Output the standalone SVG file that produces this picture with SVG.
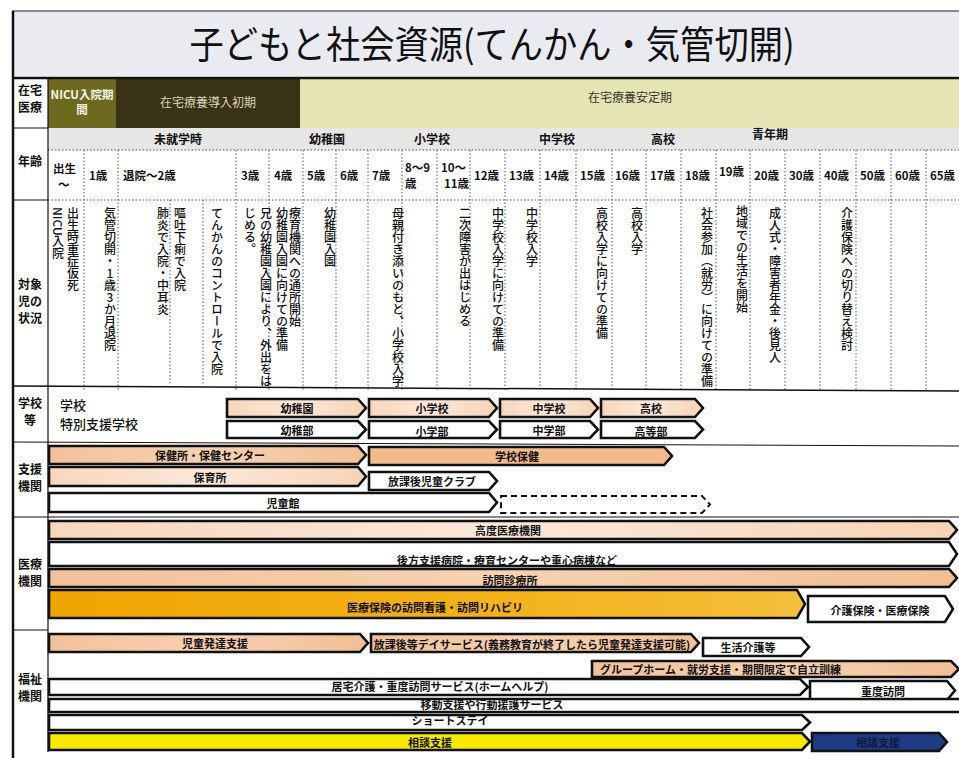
<svg xmlns="http://www.w3.org/2000/svg" width="959" height="758" viewBox="0 0 959 758">
<style>
text{font-family:"Noto Sans CJK JP","Noto Sans",sans-serif;fill:#111;}
.lbl{font-size:12px;font-weight:700;text-anchor:middle;}
.age{font-size:11.5px;font-weight:700;}
.sub{font-size:12px;font-weight:700;text-anchor:middle;}
.vt{font-size:12px;font-weight:500;writing-mode:vertical-rl;}
.sh{stroke:#111;stroke-width:2.6;stroke-linejoin:miter;}
.st{font-size:11px;font-weight:700;text-anchor:middle;dominant-baseline:central;}
.grid{stroke:#555;stroke-width:1;stroke-dasharray:1.5 2;fill:none;}
.rule{stroke:#111;fill:none;}
</style>
<defs>
<linearGradient id="peachL" x1="0" x2="1" y1="0" y2="0"><stop offset="0" stop-color="#f7d6bd"/><stop offset="0.5" stop-color="#fbe8da"/><stop offset="1" stop-color="#f6d3b6"/></linearGradient>
<linearGradient id="peach" x1="0" x2="1" y1="0" y2="0"><stop offset="0" stop-color="#f2c19a"/><stop offset="0.5" stop-color="#f6d1b2"/><stop offset="1" stop-color="#f1bf95"/></linearGradient>
<linearGradient id="orange" x1="0" x2="1" y1="0" y2="0"><stop offset="0" stop-color="#f0a400"/><stop offset="0.6" stop-color="#f3b21a"/><stop offset="1" stop-color="#f5bf3a"/></linearGradient>
</defs>
<rect x="0" y="0" width="959" height="758" fill="#ffffff"/>
<!-- title band -->
<rect x="12" y="12" width="947" height="64" fill="#e9ebf1"/>
<line class="rule" x1="12" y1="11" x2="959" y2="11" stroke-width="1"/>
<text x="492" y="58" font-size="38" font-weight="400" text-anchor="middle" textLength="605" lengthAdjust="spacingAndGlyphs">子どもと社会資源(てんかん・気管切開)</text>

<!-- header row 1 -->
<g id="row-zaitaku">
<rect x="48" y="78" width="68" height="50" fill="#6d6a1f"/>
<rect x="116" y="78" width="184" height="50" fill="#3a3216"/>
<rect x="300" y="78" width="659" height="50" fill="#e5e4b3"/>
<text x="82" y="99" font-size="11.5" font-weight="700" text-anchor="middle" style="fill:#f4f4e8">NICU入院期</text>
<text x="82" y="114" font-size="11.5" font-weight="700" text-anchor="middle" style="fill:#f4f4e8">間</text>
<text x="208" y="107" font-size="12" text-anchor="middle" style="fill:#d9d3bd">在宅療養導入初期</text>
<text x="630" y="102" font-size="12" text-anchor="middle" style="fill:#333">在宅療養安定期</text>
</g>

<!-- sub header -->
<g id="row-stage">
<rect x="48" y="128" width="911" height="22" fill="#e6e6e6"/>
<text class="sub" x="178" y="144">未就学時</text>
<text class="sub" x="327" y="144">幼稚園</text>
<text class="sub" x="432" y="144">小学校</text>
<text class="sub" x="557" y="144">中学校</text>
<text class="sub" x="663" y="144">高校</text>
<text class="sub" x="770" y="139">青年期</text>
</g>

<!-- grid lines -->
<g id="grid">
<line class="grid" x1="48" y1="150" x2="959" y2="150"/>
<line class="grid" x1="48" y1="200" x2="959" y2="200"/>
<path class="grid" d="M84 150V390M118 150V390M236 150V390M269 150V390M303 150V390M336 150V390M368 150V390M402 150V390M437 150V390M470 150V390M505 150V390M540 150V390M576 150V390M612 150V390M646 150V390M681 150V390M716 150V390M750 150V390M785 150V390M820 150V390M856 150V390M891 150V390M926 150V390M170 200V385M203 200V385"/>
<line class="rule" x1="13" y1="78" x2="959" y2="78" stroke-width="2.5"/>
<line class="rule" x1="13" y1="128" x2="48" y2="128" stroke-width="1"/>
<line class="rule" x1="13" y1="200" x2="48" y2="200" stroke-width="1"/>
<line class="rule" x1="13" y1="386" x2="959" y2="391" stroke-width="1.5"/>
<line class="rule" x1="13" y1="442" x2="959" y2="446" stroke-width="1"/>
<line class="rule" x1="13" y1="517" x2="959" y2="517" stroke-width="1"/>
<line class="rule" x1="13" y1="630" x2="48" y2="630" stroke-width="1"/>
<line class="rule" x1="13" y1="11" x2="13" y2="758" stroke-width="2.5"/>
<line class="rule" x1="48" y1="78" x2="48" y2="752" stroke-width="1.2"/>
</g>

<!-- row labels -->
<g id="labels">
<text class="lbl" x="30" y="95">在宅</text><text class="lbl" x="30" y="112">医療</text>
<text class="lbl" x="30" y="166">年齢</text>
<text class="lbl" x="30" y="289">対象</text><text class="lbl" x="30" y="306">児の</text><text class="lbl" x="30" y="323">状況</text>
<text class="lbl" x="30" y="408">学校</text><text class="lbl" x="30" y="425">等</text>
<text class="lbl" x="30" y="474">支援</text><text class="lbl" x="30" y="491">機関</text>
<text class="lbl" x="30" y="569">医療</text><text class="lbl" x="30" y="586">機関</text>
<text class="lbl" x="30" y="684">福祉</text><text class="lbl" x="30" y="701">機関</text>
</g>

<!-- ages -->
<g id="ages">
<text class="age" x="53" y="173">出生</text><text class="age" x="58" y="189">～</text>
<text class="age" x="89" y="180">1歳</text>
<text class="age" x="123" y="180">退院～2歳</text>
<text class="age" x="241" y="180">3歳</text>
<text class="age" x="274" y="180">4歳</text>
<text class="age" x="307" y="180">5歳</text>
<text class="age" x="340" y="180">6歳</text>
<text class="age" x="372" y="180">7歳</text>
<text class="age" x="405" y="172">8～9</text><text class="age" x="405" y="188">歳</text>
<text class="age" x="441" y="172">10～</text><text class="age" x="444" y="188">11歳</text>
<text class="age" x="474" y="180">12歳</text>
<text class="age" x="509" y="180">13歳</text>
<text class="age" x="544" y="180">14歳</text>
<text class="age" x="580" y="180">15歳</text>
<text class="age" x="615" y="180">16歳</text>
<text class="age" x="650" y="180">17歳</text>
<text class="age" x="685" y="180">18歳</text>
<text class="age" x="719" y="176">19歳</text>
<text class="age" x="754" y="180">20歳</text>
<text class="age" x="789" y="180">30歳</text>
<text class="age" x="824" y="180">40歳</text>
<text class="age" x="860" y="180">50歳</text>
<text class="age" x="895" y="180">60歳</text>
<text class="age" x="930" y="180">65歳</text>
</g>

<!-- situations (vertical) -->
<g id="situations">
<text class="vt" x="73" y="207">出生時重症仮死</text>
<text class="vt" x="58" y="207">NICU入院</text>
<text class="vt" x="110" y="207" style="text-orientation:upright">気管切開・1歳3か月退院</text>
<text class="vt" x="163" y="207">肺炎で入院・中耳炎</text>
<text class="vt" x="180" y="207">嘔吐下痢で入院</text>
<text class="vt" x="217" y="207">てんかんのコントロールで入院</text>
<text class="vt" x="266" y="207">兄の幼稚園入園により、外出をは</text>
<text class="vt" x="250" y="207">じめる。</text>
<text class="vt" x="295" y="207">療育機関への通所開始</text>
<text class="vt" x="282" y="207">幼稚園入園に向けての準備</text>
<text class="vt" x="330" y="207">幼稚園入園</text>
<text class="vt" x="398" y="207">母親付き添いのもと、小学校入学</text>
<text class="vt" x="465" y="207">二次障害が出はじめる</text>
<text class="vt" x="498" y="207">中学校入学に向けての準備</text>
<text class="vt" x="532" y="207">中学校入学</text>
<text class="vt" x="602" y="207">高校入学に向けての準備</text>
<text class="vt" x="637" y="207">高校入学</text>
<text class="vt" x="707" y="207">社会参加（就労）に向けての準備</text>
<text class="vt" x="742" y="205">地域での生活を開始</text>
<text class="vt" x="775" y="207">成人式・障害者年金・後見人</text>
<text class="vt" x="847" y="207">介護保険への切り替え検討</text>
</g>

<!-- school row -->
<g id="school">
<text x="60" y="410" font-size="13" font-weight="500">学校</text>
<text x="60" y="429" font-size="13" font-weight="500">特別支援学校</text>
</g>
<g id="n-yochien"><polygon class="sh" fill="url(#peachL)" points="227,399 358,399 366,408 358,417 227,417"/><text class="st" x="297" y="408">幼稚園</text></g>
<g id="n-shogakko"><polygon class="sh" fill="url(#peachL)" points="369,399 489,399 497,408 489,417 369,417"/><text class="st" x="432" y="408">小学校</text></g>
<g id="n-chugakko"><polygon class="sh" fill="url(#peachL)" points="500,399 590,399 598,408 590,417 500,417"/><text class="st" x="549" y="408">中学校</text></g>
<g id="n-koko"><polygon class="sh" fill="url(#peachL)" points="601,399 695,399 703,408 695,417 601,417"/><text class="st" x="651" y="408">高校</text></g>
<g id="n-yochibu"><polygon class="sh" fill="#fff" points="227,421 358,421 366,429.5 358,438 227,438"/><text class="st" x="297" y="429.5">幼稚部</text></g>
<g id="n-shogakubu"><polygon class="sh" fill="#fff" points="369,421 489,421 497,429.5 489,438 369,438"/><text class="st" x="432" y="430.5">小学部</text></g>
<g id="n-chugakubu"><polygon class="sh" fill="#fff" points="500,421 590,421 598,429.5 590,438 500,438"/><text class="st" x="549" y="430">中学部</text></g>
<g id="n-kotobu"><polygon class="sh" fill="#fff" points="601,421 695,421 703,429.5 695,438 601,438"/><text class="st" x="651" y="431">高等部</text></g>

<!-- support row -->
<g id="n-hokenjo"><polygon class="sh" fill="url(#peach)" points="49,446 358,446 366,455 358,464 49,464"/><text class="st" x="210" y="455">保健所・保健センター</text></g>
<g id="n-gakkohoken"><polygon class="sh" fill="#f3bb8d" points="369,447 664,447 672,456 664,465 369,465"/><text class="st" x="517" y="456">学校保健</text></g>
<g id="n-hoikusho"><polygon class="sh" fill="url(#peachL)" points="49,467 358,467 366,476.5 358,486 49,486"/><text class="st" x="210" y="476.5">保育所</text></g>
<g id="n-jidoclub"><polygon class="sh" fill="#fff" points="369,472 489,472 497,481 489,490 369,490"/><text class="st" x="432" y="481">放課後児童クラブ</text></g>
<g id="n-jidokan"><polygon class="sh" fill="#fff" points="49,493 489,493 497,502.5 489,512 49,512"/><text class="st" x="283" y="503">児童館</text></g>
<g id="n-jidokan-cont"><polygon fill="#fff" stroke="#111" stroke-width="2" stroke-dasharray="6 4" points="501,496 702,496 710,504.5 702,513 501,513"/></g>

<!-- medical row -->
<g id="n-kodo"><polygon class="sh" fill="url(#peachL)" points="49,521 949,521 957,530 949,539 49,539"/><text class="st" x="508" y="530">高度医療機関</text></g>
<g id="n-koho"><polygon class="sh" fill="#fff" points="49,542 949,542 957,554 949,566 49,566"/><text class="st" x="507" y="560">後方支援病院・療育センターや重心病棟など</text></g>
<g id="n-shinryo"><polygon class="sh" fill="url(#peach)" points="49,569 949,569 957,578 949,587 49,587"/><text class="st" x="510" y="580">訪問診療所</text></g>
<g id="n-kango"><polygon class="sh" fill="url(#orange)" points="49,590 797,590 805,604 797,618 49,618"/><text class="st" x="435" y="607">医療保険の訪問看護・訪問リハビリ</text></g>
<g id="n-kaigohoken"><polygon class="sh" fill="#fff" points="808,596 945,596 953,609 945,622 808,622"/><text class="st" x="880" y="610">介護保険・医療保険</text></g>

<!-- welfare row -->
<g id="n-hattatsu"><polygon class="sh" fill="url(#peach)" points="49,634 360,634 368,643 360,652 49,652"/><text class="st" x="215" y="643">児童発達支援</text></g>
<g id="n-dayservice"><polygon class="sh" fill="url(#peach)" points="371,634 691,634 699,643 691,652 371,652"/><text class="st" x="532" y="644" font-size="10.5">放課後等デイサービス(義務教育が終了したら児童発達支援可能)</text></g>
<g id="n-seikatsu"><polygon class="sh" fill="#fff" points="703,638 801,638 809,647 801,656 703,656"/><text class="st" x="748" y="647">生活介護等</text></g>
<g id="n-grouphome"><polygon class="sh" fill="url(#peach)" points="592,661 951,661 959,669 951,677 592,677"/><text x="600" y="669" font-size="11" font-weight="700" dominant-baseline="central">グループホーム・就労支援・期間限定で自立訓練</text></g>
<g id="n-kyotaku"><polygon class="sh" fill="#fff" points="49,679 800,679 808,687 800,695 49,695"/><text class="st" x="440" y="686" font-size="10.5">居宅介護・重度訪問サービス(ホームヘルプ)</text></g>
<g id="n-judohomon"><polygon class="sh" fill="#fff" points="810,681 947,681 955,690.5 947,700 810,700"/><text class="st" x="883" y="690.5">重度訪問</text></g>
<g id="n-ido"><polygon class="sh" fill="#fff" points="49,699 962,699 962,712 49,712"/><text class="st" x="492" y="704" font-size="10.5">移動支援や行動援護サービス</text></g>
<g id="n-shortstay"><polygon class="sh" fill="#fff" points="49,715 802,715 810,722.5 802,730 49,730"/><text class="st" x="450" y="720" font-size="10.5">ショートステイ</text></g>
<g id="n-sodan1"><polygon class="sh" fill="#f7ea00" points="49,733 802,733 810,741.5 802,750 49,750"/><text class="st" x="430" y="741.5">相談支援</text></g>
<g id="n-sodan2"><polygon class="sh" fill="#1f3b84" points="812,733 939,733 947,742 939,751 812,751"/><text class="st" x="878" y="742" style="fill:#0e1a3c">相談支援</text></g>
</svg>
